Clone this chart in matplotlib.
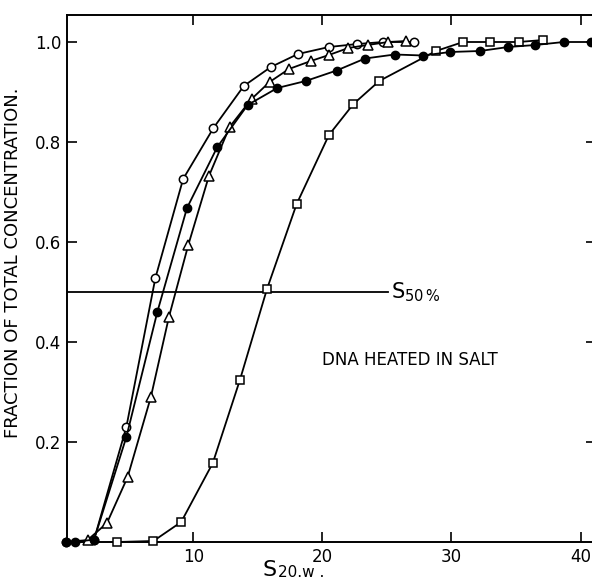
import numpy as np
import matplotlib
matplotlib.use("Agg")
import matplotlib.pyplot as plt

# Sedimentation distribution curves (fraction of total concentration vs S20,w)
open_circ_s = [0.1, 2.3, 4.8, 7.05, 9.2, 11.55, 13.9, 16.0, 18.1, 20.5, 22.7, 24.7, 27.1]
open_circ_f = [0.0, 0.005, 0.23, 0.528, 0.726, 0.828, 0.912, 0.95, 0.976, 0.99, 0.996, 1.0, 1.0]

filled_s = [0.1, 0.85, 2.3, 4.8, 7.2, 9.5, 11.85, 14.2, 16.5, 18.7, 21.1, 23.3, 25.6,
            27.8, 29.9, 32.2, 34.4, 36.5, 38.7, 40.8]
filled_f = [0.0, 0.0, 0.005, 0.21, 0.46, 0.668, 0.79, 0.874, 0.908, 0.922, 0.943, 0.967, 0.975,
            0.973, 0.98, 0.982, 0.99, 0.994, 1.0, 1.0]

tri_s = [1.8, 3.3, 4.9, 6.7, 8.1, 9.6, 11.2, 12.8, 14.5, 15.9, 17.4, 19.1, 20.5,
         22.0, 23.5, 25.1, 26.5]
tri_f = [0.004, 0.038, 0.13, 0.29, 0.45, 0.594, 0.732, 0.83, 0.886, 0.92, 0.946, 0.962, 0.974,
         0.988, 0.994, 1.0, 1.002]

sq_s = [4.1, 6.9, 9.05, 11.5, 13.6, 15.7, 18.0, 20.5, 22.4, 24.4, 28.8, 30.9, 33.0, 35.2, 37.1]
sq_f = [0.0, 0.002, 0.04, 0.158, 0.324, 0.506, 0.676, 0.814, 0.876, 0.922, 0.982, 1.0, 1.0, 1.0, 1.004]

s50_level = 0.5
s50_end = 25.1

xticks = [10, 20, 30, 40]
yticks = [0.2, 0.4, 0.6, 0.8, 1.0]

W, H = 592, 580
fig = plt.figure(figsize=(W / 100, H / 100), dpi=100)
ax = fig.add_axes([67 / W, 38 / H, 529 / W, 527 / H])
ax.set_xlim(0.2, 41.2)
ax.set_ylim(0, 1.054)

lw = 1.3
ax.plot(open_circ_s, open_circ_f, "-o", color="black", lw=lw, ms=6,
        mfc="white", mec="black", mew=1.1, clip_on=False, zorder=3)
ax.plot(tri_s, tri_f, "-^", color="black", lw=lw, ms=6.5,
        mfc="white", mec="black", mew=1.1, clip_on=False, zorder=3)
ax.plot(sq_s, sq_f, "-s", color="black", lw=lw, ms=5.8,
        mfc="white", mec="black", mew=1.1, clip_on=False, zorder=3)
ax.plot(filled_s, filled_f, "-o", color="black", lw=lw, ms=6,
        mfc="black", mec="black", clip_on=False, zorder=4)

ax.plot([0.2, s50_end], [s50_level, s50_level], color="black", lw=1.3)
ax.text(s50_end + 0.2, s50_level, r"S$\mathregular{_{50\,\%}}$", fontsize=15,
        va="center", ha="left")

ax.text(20.0, 0.364, "DNA HEATED IN SALT", fontsize=12, va="center", ha="left")

ax.set_xticks(xticks)
ax.set_xticklabels([str(t) for t in xticks])
ax.set_yticks(yticks)
ax.set_yticklabels(["%.1f" % t for t in yticks])
ax.tick_params(direction="in", length=7, width=1.2, labelsize=12, pad=4,
               top=True, right=True)

for sp in ax.spines.values():
    sp.set_linewidth(1.4)

ax.set_ylabel("FRACTION OF TOTAL CONCENTRATION.", fontsize=13)
ax.yaxis.set_label_coords(-0.085, 0.53)

# x axis label S20,w. built from two pieces of text
fig.text(263 / W, (H - 576) / H, "S", fontsize=16, ha="left", va="baseline")
fig.text(278 / W, (H - 577) / H, "20.w .", fontsize=11, ha="left", va="baseline")

fig.savefig("out.png", dpi=100)
